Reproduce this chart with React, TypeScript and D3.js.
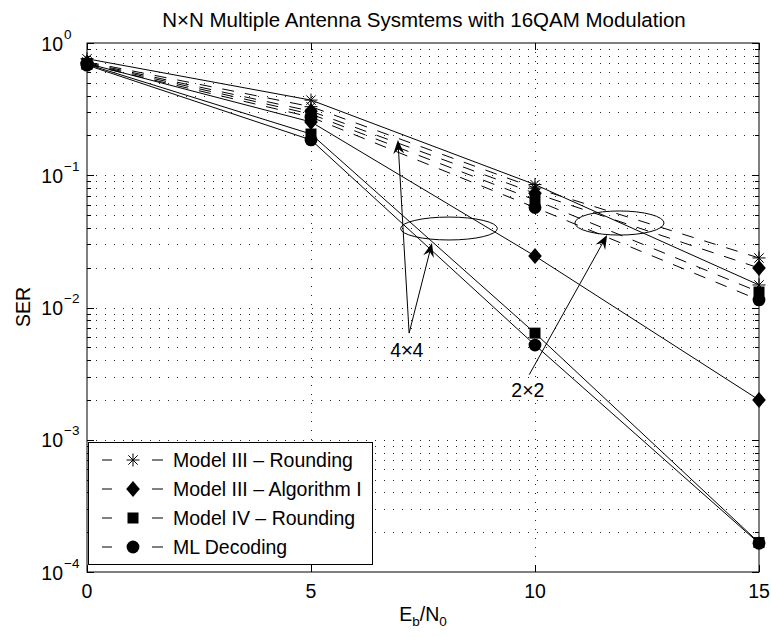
import React from 'react';
import * as d3 from 'd3';

// ---- data ----
const snrDb = [0, 5, 10, 15];
const m3Round2x2 = [0.72, 0.33, 0.08, 0.0237];
const m3Alg2x2 = [0.71, 0.305, 0.073, 0.0199];
const m4Round2x2 = [0.7, 0.29, 0.065, 0.0131];
const ml2x2 = [0.69, 0.275, 0.057, 0.0114];
const m3Round4x4 = [0.76, 0.37, 0.085, 0.0148];
const m3Alg4x4 = [0.7, 0.253, 0.0245, 0.002];
const m4Round4x4 = [0.69, 0.205, 0.0064, 0.000167];
const ml4x4 = [0.68, 0.185, 0.0052, 0.000165];

const xTickValues = [0, 5, 10, 15];
const yDecades = [-4, -3, -2, -1, 0];
const yExpLabels = ['\u22124', '\u22123', '\u22122', '\u22121', '0'];
const legendLabels = ['Model III \u2013 Rounding', 'Model III \u2013 Algorithm I', 'Model IV \u2013 Rounding', 'ML Decoding'];
const markerTypes = ['star', 'diamond', 'square', 'circle'];

// annotation anchors in data coordinates
const ellipse4 = { x0: 7.0, x1: 9.16, y0: 0.0324, y1: 0.0483 };
const ellipse2 = { x0: 10.89, x1: 12.88, y0: 0.0353, y1: 0.0537 };
const label4 = { x: 7.14, y: 0.0048, text: '4\u00d74' };
const label2 = { x: 9.84, y: 0.00238, text: '2\u00d72' };
const arrows = [
  { x0: 7.19, y0: 0.0064, x1: 6.94, y1: 0.185 },
  { x0: 7.19, y0: 0.0064, x1: 7.7, y1: 0.0307 },
  { x0: 9.87, y0: 0.0031, x1: 11.61, y1: 0.0353 },
];

const FONT = '"Liberation Sans", Arial, Helvetica, sans-serif';

function Marker({ type, cx, cy }: { type: string; cx: number; cy: number }) {
  if (type === 'star') {
    const r = 6.5, a = r * 0.72;
    const d = `M${cx - r},${cy}L${cx + r},${cy}M${cx},${cy - r}L${cx},${cy + r}M${cx - a},${cy - a}L${cx + a},${cy + a}M${cx - a},${cy + a}L${cx + a},${cy - a}`;
    return <path d={d} stroke="#000" strokeWidth={1} fill="none" />;
  }
  if (type === 'diamond') {
    const w = 6.8, h = 8;
    return <path d={`M${cx},${cy - h}L${cx + w},${cy}L${cx},${cy + h}L${cx - w},${cy}Z`} fill="#000" />;
  }
  if (type === 'square') {
    const s = 5.5;
    return <rect x={cx - s} y={cy - s} width={2 * s} height={2 * s} fill="#000" />;
  }
  return <circle cx={cx} cy={cy} r={6.4} fill="#000" />;
}

function Arrow({ x0, y0, x1, y1 }: { x0: number; y0: number; x1: number; y1: number }) {
  const dx = x1 - x0, dy = y1 - y0;
  const len = Math.hypot(dx, dy);
  const ux = dx / len, uy = dy / len;
  const px = -uy, py = ux;
  const L = 14, Wd = 5.5, notch = 9;
  const bx = x1 - ux * L, by = y1 - uy * L;
  const nx = x1 - ux * notch, ny = y1 - uy * notch;
  const head = `M${x1},${y1}L${bx + px * Wd},${by + py * Wd}L${nx},${ny}L${bx - px * Wd},${by - py * Wd}Z`;
  return (
    <g>
      <line x1={x0} y1={y0} x2={nx} y2={ny} stroke="#000" strokeWidth={1} />
      <path d={head} fill="#000" />
    </g>
  );
}

export default function App() {
  const x = d3.scaleLinear().domain([0, 15]).range([87, 759]);
  const y = d3.scaleLog().domain([1e-4, 1]).range([572, 43]);
  const left = 87, right = 759, top = 43, bottom = 572;

  const series = [
    { vals: m3Round2x2, marker: 'star', dashed: true },
    { vals: m3Alg2x2, marker: 'diamond', dashed: true },
    { vals: m4Round2x2, marker: 'square', dashed: true },
    { vals: ml2x2, marker: 'circle', dashed: true },
    { vals: m3Round4x4, marker: 'star', dashed: false },
    { vals: m3Alg4x4, marker: 'diamond', dashed: false },
    { vals: m4Round4x4, marker: 'square', dashed: false },
    { vals: ml4x4, marker: 'circle', dashed: false },
  ];

  const line = d3
    .line<number>()
    .x((_, i) => x(snrDb[i]))
    .y((v) => y(v));

  const minorVals: number[] = [];
  yDecades.slice(0, -1).forEach((d) => {
    for (let k = 2; k <= 9; k++) minorVals.push(k * Math.pow(10, d));
  });
  const majorVals = yDecades.map((d) => Math.pow(10, d));

  const legX = 88.5, legY = 442.5, legW = 284, legH = 122;
  const rowYs = [460, 489, 518, 547];

  return (
    <svg width={771} height={637} style={{ position: 'absolute', left: 0, top: 0, background: '#fff' }} fontFamily={FONT}>
      <rect x={0} y={0} width={771} height={637} fill="#fff" />
      {/* grid */}
      <g stroke="#222" strokeWidth={1} strokeDasharray="1,8">
        {[...minorVals, ...majorVals.slice(1, -1)].map((v, i) => (
          <line key={'h' + i} x1={left} x2={right} y1={Math.round(y(v)) + 0.5} y2={Math.round(y(v)) + 0.5} />
        ))}
        {xTickValues.slice(1, -1).map((t) => (
          <line key={'v' + t} x1={Math.round(x(t)) + 0.5} x2={Math.round(x(t)) + 0.5} y1={top} y2={bottom} />
        ))}
      </g>
      {/* ticks */}
      <g stroke="#000" strokeWidth={1}>
        {xTickValues.map((t) => {
          const px = Math.round(x(t)) + 0.5;
          return (
            <g key={'xt' + t}>
              <line x1={px} x2={px} y1={bottom} y2={bottom - 7} />
              <line x1={px} x2={px} y1={top} y2={top + 7} />
            </g>
          );
        })}
        {majorVals.map((v, i) => {
          const py = Math.round(y(v)) + 0.5;
          return (
            <g key={'ymj' + i}>
              <line x1={left} x2={left + 7} y1={py} y2={py} />
              <line x1={right} x2={right - 7} y1={py} y2={py} />
            </g>
          );
        })}
        {minorVals.map((v, i) => {
          const py = Math.round(y(v)) + 0.5;
          return (
            <g key={'ymn' + i}>
              <line x1={left} x2={left + 4} y1={py} y2={py} />
              <line x1={right} x2={right - 4} y1={py} y2={py} />
            </g>
          );
        })}
      </g>
      {/* series lines */}
      <g fill="none" stroke="#000" strokeWidth={1}>
        {series.map((s, i) => (
          <path key={'l' + i} d={line(s.vals) || ''} strokeDasharray={s.dashed ? '12,11' : undefined} />
        ))}
      </g>
      {/* markers */}
      {series.map((s, i) => (
        <g key={'m' + i}>
          {s.vals.map((v, j) => (
            <Marker key={j} type={s.marker} cx={x(snrDb[j])} cy={y(v)} />
          ))}
        </g>
      ))}
      {/* annotations */}
      {[ellipse4, ellipse2].map((e, i) => {
        const cx = (x(e.x0) + x(e.x1)) / 2, cy = (y(e.y0) + y(e.y1)) / 2;
        const rx = Math.abs(x(e.x1) - x(e.x0)) / 2, ry = Math.abs(y(e.y1) - y(e.y0)) / 2;
        return <ellipse key={'e' + i} cx={cx} cy={cy} rx={rx} ry={ry} fill="none" stroke="#000" strokeWidth={1} />;
      })}
      {arrows.map((a, i) => (
        <Arrow key={'a' + i} x0={x(a.x0)} y0={y(a.y0)} x1={x(a.x1)} y1={y(a.y1)} />
      ))}
      {[label4, label2].map((l, i) => (
        <text key={'lab' + i} x={x(l.x)} y={y(l.y) + 7} fontSize={19.5} textAnchor="middle" fill="#000">
          {l.text}
        </text>
      ))}
      {/* axes box */}
      <rect x={left} y={top} width={right - left} height={bottom - top} fill="none" stroke="#000" strokeWidth={1} />
      {/* x tick labels */}
      {xTickValues.map((t) => (
        <text key={'xl' + t} x={x(t)} y={598} fontSize={19.5} textAnchor="middle" fill="#000">
          {t}
        </text>
      ))}
      {/* y tick labels */}
      {majorVals.map((v, i) => (
        <g key={'yl' + i}>
          <text x={63} y={y(v) + 7.5} fontSize={19.5} textAnchor="end" fill="#000">10</text>
          <text x={64} y={y(v) - 4.5} fontSize={13.5} textAnchor="start" fill="#000">{yExpLabels[i]}</text>
        </g>
      ))}
      {/* axis labels */}
      <text x={423} y={621} fontSize={19.5} textAnchor="middle" fill="#000">
        E<tspan fontSize={13.5} dy={5}>b</tspan>
        <tspan dy={-5}>/N</tspan>
        <tspan fontSize={13.5} dy={5}>0</tspan>
      </text>
      <text transform="translate(30,307) rotate(-90)" fontSize={19.5} textAnchor="middle" fill="#000">SER</text>
      <text x={424} y={27} fontSize={20.5} textAnchor="middle" fill="#000">
        N{'\u00d7'}N Multiple Antenna Sysmtems with 16QAM Modulation
      </text>
      {/* legend */}
      <rect x={legX} y={legY} width={legW} height={legH} fill="#fff" stroke="#000" strokeWidth={1} />
      {legendLabels.map((lab, i) => (
        <g key={'lg' + i}>
          <line x1={102} x2={112} y1={rowYs[i]} y2={rowYs[i]} stroke="#000" strokeWidth={1} />
          <line x1={152} x2={163} y1={rowYs[i]} y2={rowYs[i]} stroke="#000" strokeWidth={1} />
          <Marker type={markerTypes[i]} cx={133} cy={rowYs[i]} />
          <text x={173} y={rowYs[i] + 7} fontSize={19.5} fill="#000">{lab}</text>
        </g>
      ))}
    </svg>
  );
}
